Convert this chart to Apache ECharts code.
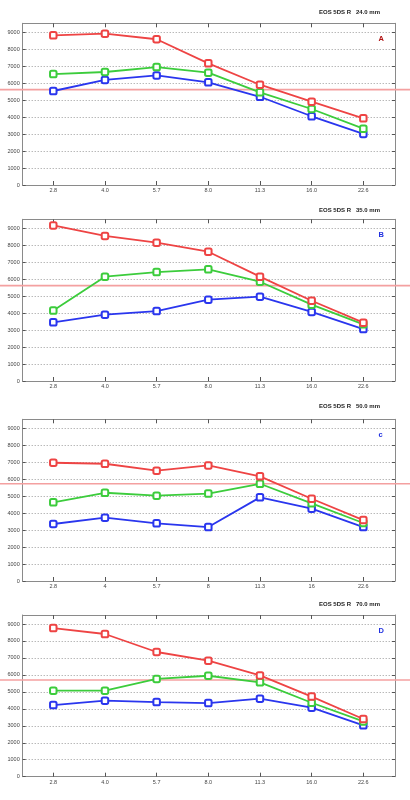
<!DOCTYPE html>
<html><head><meta charset="utf-8">
<script src="https://cdn.jsdelivr.net/npm/echarts@6/dist/echarts.min.js"></script>
<style>html,body{margin:0;padding:0;background:#fff}#c{width:410px;height:800px}</style>
</head><body><div id="c"></div>
<script>
// Categories (f-stops)
const cats = ['2.8','4.0','5.7','8.0','11.3','16.0','22.6'];
const catsC = ['2.8','4','5.7','8','11.3','16','22.6'];
const yTicks = [0,1000,2000,3000,4000,5000,6000,7000,8000,9000];

// Panel titles and letters
const titles = ['EOS 5DS R   24.0 mm','EOS 5DS R   35.0 mm','EOS 5DS R   50.0 mm','EOS 5DS R   70.0 mm'];
const letters = ['A','B','c','D'];

// Panel A (24mm)
const redA   = [8820, 8920, 8590, 7170, 5910, 4910, 3930];
const greenA = [6540, 6660, 6950, 6620, 5460, 4480, 3320];
const blueA  = [5540, 6190, 6460, 6050, 5200, 4050, 3010];
// Panel B (35mm)
const redB   = [9170, 8550, 8150, 7620, 6150, 4730, 3440];
const greenB = [4150, 6150, 6420, 6580, 5850, 4500, 3340];
const blueB  = [3460, 3910, 4120, 4790, 4970, 4070, 3060];
// Panel C (50mm)
const redC   = [6970, 6910, 6500, 6810, 6170, 4850, 3590];
const greenC = [4640, 5200, 5030, 5150, 5730, 4580, 3420];
const blueC  = [3360, 3730, 3400, 3180, 4930, 4260, 3180];
// Panel D (70mm)
const redD   = [8760, 8410, 7350, 6840, 5970, 4720, 3400];
const greenD = [5070, 5070, 5760, 5950, 5560, 4360, 3260];
const blueD  = [4220, 4480, 4400, 4340, 4600, 4070, 3030];
// Reference (red horizontal) level per panel
const refLevel = [5620, 5620, 5730, 5700];

const panels = [
  {red: redA, green: greenA, blue: blueA, cats: cats},
  {red: redB, green: greenB, blue: blueB, cats: cats},
  {red: redC, green: greenC, blue: blueC, cats: catsC},
  {red: redD, green: greenD, blue: blueD, cats: cats}
];
const gridTops = [23.3, 219.3, 419.3, 615];
const titleTops = [9.5, 207, 403, 601.5];
const letterTops = [35, 231, 431, 627];
const letterColors = ['#b01010', '#2030e0', '#2030e0', '#2030e0'];

const idx = [0,1,2,3,4,5,6];
const frameColor = '#8a8a8a';
const font = 'Liberation Sans, Arial, sans-serif';

const grid = [], xAxis = [], yAxis = [], series = [], title = [];
panels.forEach((p, k) => {
  grid.push({left: 22.7, right: 15, top: gridTops[k], height: 161.7});
});
panels.forEach((p, k) => {
  xAxis.push({
    type: 'value', gridIndex: k, min: -0.592, max: 6.613, position: 'bottom',
    axisLine: {show: true, onZero: false, lineStyle: {color: frameColor, width: 1}},
    axisTick: {show: true, inside: true, length: 4, customValues: idx, lineStyle: {color: '#555'}},
    axisLabel: {customValues: idx, formatter: v => p.cats[Math.round(v)], fontSize: 5.5, color: '#444', margin: 2.5, fontFamily: font},
    splitLine: {show: false}
  });
});
panels.forEach((p, k) => {
  xAxis.push({
    type: 'value', gridIndex: k, min: -0.592, max: 6.613, position: 'top',
    axisLine: {show: true, onZero: false, lineStyle: {color: frameColor, width: 1}},
    axisTick: {show: true, inside: true, length: 4, customValues: idx, lineStyle: {color: '#555'}},
    axisLabel: {show: false}, splitLine: {show: false}
  });
});
panels.forEach((p, k) => {
  yAxis.push({
    type: 'value', gridIndex: k, min: 0, max: 9530, position: 'left',
    axisLine: {show: true, onZero: false, lineStyle: {color: frameColor, width: 1}},
    axisTick: {show: true, inside: true, length: 3, customValues: yTicks, lineStyle: {color: '#555'}},
    axisLabel: {customValues: yTicks, formatter: v => String(v), fontSize: 5.5, color: '#444', margin: 3, fontFamily: font},
    splitLine: {show: true, lineStyle: {color: '#9a9a9a', type: [1, 2], width: 1}}
  });
});
panels.forEach((p, k) => {
  yAxis.push({
    type: 'value', gridIndex: k, min: 0, max: 9530, position: 'right',
    axisLine: {show: true, onZero: false, lineStyle: {color: frameColor, width: 1}},
    axisTick: {show: true, inside: true, length: 3, customValues: yTicks, lineStyle: {color: '#555'}},
    axisLabel: {show: false}, splitLine: {show: false}
  });
});
const colors = {red: '#ee4444', green: '#3ccc3c', blue: '#2a36ee'};
panels.forEach((p, k) => {
  ['blue', 'green', 'red'].forEach(c => {
    series.push({
      type: 'line', xAxisIndex: k, yAxisIndex: k,
      data: p[c].map((v, i) => [i, v]),
      symbol: 'emptyRoundRect', symbolSize: 6.5,
      lineStyle: {color: colors[c], width: 1.8},
      itemStyle: {color: colors[c], borderColor: colors[c], borderWidth: 1.5},
      z: c === 'red' ? 5 : (c === 'green' ? 4 : 3),
      animation: false, silent: true
    });
  });
  title.push({text: titles[k], right: 30, top: titleTops[k], padding: 0, textStyle: {fontSize: 6, fontWeight: 'bold', color: '#222', fontFamily: font}});
  title.push({text: letters[k], left: 378.5, top: letterTops[k], padding: 0, textStyle: {fontSize: 7.5, fontWeight: 'bold', color: letterColors[k], fontFamily: font}});
});

const chart = echarts.init(document.getElementById('c'), null, {renderer: 'canvas'});
chart.setOption({animation: false, title, grid, xAxis, yAxis, series});

const graphic = refLevel.map((v, k) => {
  const y = chart.convertToPixel({yAxisIndex: k}, v);
  return {type: 'line', shape: {x1: 0, y1: y, x2: 410, y2: y}, style: {stroke: '#f4a0a0', lineWidth: 1.6}, z: 1};
});
chart.setOption({graphic});
</script></body></html>
